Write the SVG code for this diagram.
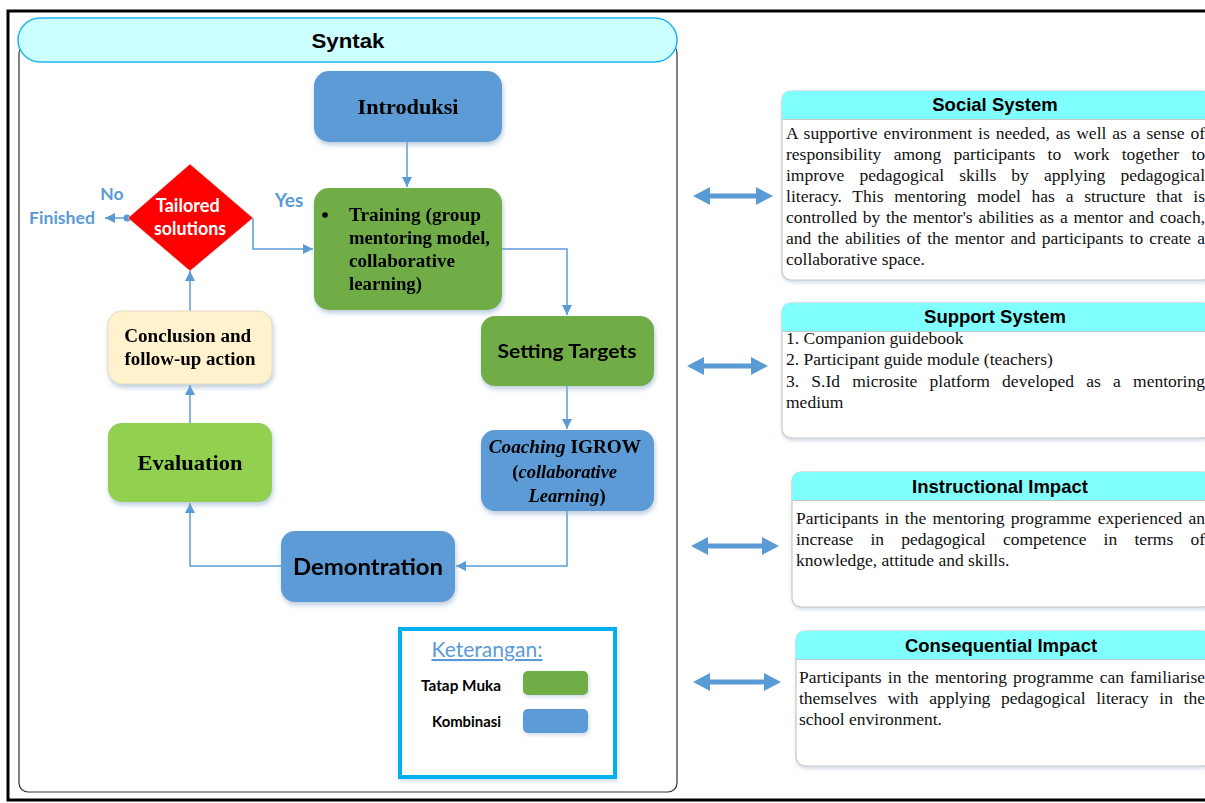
<svg xmlns="http://www.w3.org/2000/svg" width="1205" height="803" viewBox="0 0 1205 803">
<defs>
<filter id="sh" x="-20%" y="-20%" width="140%" height="150%">
<feDropShadow dx="1" dy="3" stdDeviation="2.5" flood-color="#8EA9C8" flood-opacity="0.6"/>
</filter>
<filter id="sh2" x="-10%" y="-10%" width="120%" height="130%">
<feDropShadow dx="1" dy="2" stdDeviation="2" flood-color="#9DB3CC" flood-opacity="0.5"/>
</filter>
<marker id="ah" viewBox="0 0 10 10" refX="10" refY="5" markerWidth="10" markerHeight="10" markerUnits="userSpaceOnUse" orient="auto">
<path d="M0,0 L10,5 L0,10 z" fill="#5B9BD5"/>
</marker>
</defs>
<style>
.blue{fill:#5B9BD5}
.green{fill:#70AD47}
.lgreen{fill:#92D050}
.cream{fill:#FFF2CC;stroke:#E6DDC4;stroke-width:1}
.conn{fill:none;stroke:#5B9BD5;stroke-width:1.5;marker-end:url(#ah)}
.ser{font-family:"Liberation Serif","Times New Roman",serif;font-weight:bold;fill:#000}
.sans{font-family:"Liberation Sans",Arial,sans-serif;font-weight:bold;fill:#000}
.cal{font-family:Lato,"Open Sans",sans-serif;font-weight:bold}
.body{font-family:"Liberation Serif","Times New Roman",serif;font-size:17.5px;fill:#111}
.hdr{fill:#80FFFF}
.card{fill:#fff;stroke:#C8C8C8;stroke-width:1.2}
.dbl{fill:#5B9BD5}
</style>

<rect x="8" y="11" width="1210" height="789" fill="#fff" stroke="#000" stroke-width="3"/>

<g id="syntak-container">
<rect x="19" y="44" width="658" height="748" rx="9" fill="#fff" stroke="#333" stroke-width="1.2"/>
<rect x="18" y="18" width="659" height="44" rx="22" fill="#CCFFFF" stroke="#1FB5F0" stroke-width="1.5"/>
<text x="348" y="48" text-anchor="middle" class="sans" font-size="21" textLength="73" lengthAdjust="spacingAndGlyphs">Syntak</text>
</g>

<g id="connectors">
<path class="conn" d="M407,142 V187"/>
<path class="conn" d="M502,249 H567 V315"/>
<path class="conn" d="M567,386 V429"/>
<path class="conn" d="M567,511 V566 H456"/>
<path class="conn" d="M281,566 H190 V503"/>
<path class="conn" d="M190,423 V385"/>
<path class="conn" d="M190,311 V271"/>
<path class="conn" d="M253,218 V249 H313"/>
<path class="conn" d="M127,218 H105"/>
<circle cx="127" cy="218" r="3.5" fill="#5B9BD5"/>
<text x="112" y="200" text-anchor="middle" class="cal" font-size="17.5" fill="#5B9BD5">No</text>
<text x="62" y="224" text-anchor="middle" class="cal" font-size="17.5" fill="#5B9BD5" textLength="66" lengthAdjust="spacingAndGlyphs">Finished</text>
<text x="289" y="207" text-anchor="middle" class="cal" font-size="19" fill="#5B9BD5">Yes</text>
</g>

<g id="introduksi" filter="url(#sh)">
<rect x="314" y="71" width="188" height="71" rx="15" class="blue"/>
<text x="408" y="114" text-anchor="middle" class="ser" font-size="21" textLength="101" lengthAdjust="spacingAndGlyphs">Introduksi</text>
</g>

<g id="training" filter="url(#sh)">
<rect x="314" y="188" width="188" height="122" rx="15" class="green"/>
<circle cx="325" cy="215" r="2.8" fill="#000"/>
<text class="ser" font-size="18">
<tspan x="349" y="221" textLength="132" lengthAdjust="spacingAndGlyphs">Training (group</tspan>
<tspan x="349" y="244" textLength="141" lengthAdjust="spacingAndGlyphs">mentoring model,</tspan>
<tspan x="349" y="267" textLength="106" lengthAdjust="spacingAndGlyphs">collaborative</tspan>
<tspan x="349" y="290" textLength="73" lengthAdjust="spacingAndGlyphs">learning)</tspan>
</text>
</g>

<g id="setting-targets" filter="url(#sh)">
<rect x="481" y="316" width="173" height="70" rx="14" class="green"/>
<text x="567" y="358" text-anchor="middle" class="cal" font-size="19" fill="#000" textLength="139" lengthAdjust="spacingAndGlyphs">Setting Targets</text>
</g>

<g id="coaching" filter="url(#sh)">
<rect x="481" y="430" width="173" height="81" rx="14" class="blue"/>
<text class="ser" font-size="18.5" text-anchor="middle">
<tspan x="567" y="453" textLength="152" lengthAdjust="spacingAndGlyphs"><tspan font-style="italic">Coaching</tspan> IGROW</tspan>
<tspan x="567" y="478">(<tspan font-style="italic">collaborative</tspan></tspan>
<tspan x="567" y="502"><tspan font-style="italic">Learning</tspan>)</tspan>
</text>
</g>

<g id="demontration" filter="url(#sh)">
<rect x="281" y="531" width="174" height="71" rx="14" class="blue"/>
<text x="368" y="575" text-anchor="middle" class="cal" font-size="22" fill="#000" textLength="150" lengthAdjust="spacingAndGlyphs">Demontration</text>
</g>

<g id="evaluation" filter="url(#sh)">
<rect x="108" y="423" width="164" height="79" rx="14" class="lgreen"/>
<text x="190" y="470" text-anchor="middle" class="ser" font-size="21" textLength="105" lengthAdjust="spacingAndGlyphs">Evaluation</text>
</g>

<g id="conclusion" filter="url(#sh)">
<rect x="108" y="311" width="164" height="73" rx="14" class="cream"/>
<text class="ser" font-size="18" text-anchor="middle">
<tspan x="190" y="342" textLength="127" lengthAdjust="spacingAndGlyphs">Conclusion and</tspan>
<tspan x="190" y="365" textLength="131" lengthAdjust="spacingAndGlyphs">follow-up action</tspan>
</text>
</g>

<g id="tailored-solutions">
<polygon points="190,164 253,218 190,271 128,218" fill="#FF0000" stroke="#C8C8C8" stroke-width="0.8"/>
<text class="cal" font-size="18" fill="#fff" text-anchor="middle">
<tspan x="190" y="212" textLength="64" lengthAdjust="spacingAndGlyphs">Tailored</tspan>
<tspan x="190" y="235" textLength="72" lengthAdjust="spacingAndGlyphs">solutions</tspan>
</text>
</g>

<g id="legend">
<rect x="400" y="629" width="215" height="148" fill="#fff" stroke="#00B0F0" stroke-width="4" filter="url(#sh2)"/>
<text x="487" y="657" text-anchor="middle" font-family="Lato,'Open Sans',sans-serif" font-size="21" fill="#5B9BD5" text-decoration="underline" textLength="111" lengthAdjust="spacingAndGlyphs">Keterangan:</text>
<text x="501" y="691" text-anchor="end" class="cal" font-size="15" fill="#000" textLength="80" lengthAdjust="spacingAndGlyphs">Tatap Muka</text>
<text x="501" y="727" text-anchor="end" class="cal" font-size="15" fill="#000" textLength="69" lengthAdjust="spacingAndGlyphs">Kombinasi</text>
<rect x="523" y="671" width="65" height="24" rx="5" class="green" filter="url(#sh2)"/>
<rect x="523" y="709" width="65" height="24" rx="5" class="blue" filter="url(#sh2)"/>
</g>

<g id="double-arrows">
<path class="dbl" d="M693,196 L710,187 L710,193.5 L756,193.5 L756,187 L773,196 L756,205 L756,198.5 L710,198.5 L710,205 z"/>
<path class="dbl" d="M687,366 L704,357 L704,363.5 L751,363.5 L751,357 L768,366 L751,375 L751,368.5 L704,368.5 L704,375 z"/>
<path class="dbl" d="M691,546 L708,537 L708,543.5 L762,543.5 L762,537 L779,546 L762,555 L762,548.5 L708,548.5 L708,555 z"/>
<path class="dbl" d="M693,682 L710,673 L710,679.5 L764,679.5 L764,673 L781,682 L764,691 L764,684.5 L710,684.5 L710,691 z"/>
</g>

<g id="social-system">
<rect x="782" y="91" width="430" height="189" rx="9" class="card" filter="url(#sh2)"/>
<path d="M782,119 V100 Q782,91 791,91 H1212 V119 z" class="hdr"/>
<line x1="782" y1="119.5" x2="1212" y2="119.5" stroke="#C8C8C8" stroke-width="1.2"/>
<text x="995" y="111" text-anchor="middle" class="sans" font-size="18.5">Social System</text>
<text class="body">
<tspan x="786" y="139" word-spacing="1.5" textLength="419" lengthAdjust="spacing">A supportive environment is needed, as well as a sense of</tspan>
<tspan x="786" y="160" word-spacing="7.9" textLength="419" lengthAdjust="spacing">responsibility among participants to work together to</tspan>
<tspan x="786" y="181" word-spacing="10.8" textLength="419" lengthAdjust="spacing">improve pedagogical skills by applying pedagogical</tspan>
<tspan x="786" y="202" word-spacing="6.3" textLength="419" lengthAdjust="spacing">literacy. This mentoring model has a structure that is</tspan>
<tspan x="786" y="223" word-spacing="1.4" textLength="419" lengthAdjust="spacing">controlled by the mentor's abilities as a mentor and coach,</tspan>
<tspan x="786" y="244" word-spacing="1.75" textLength="419" lengthAdjust="spacing">and the abilities of the mentor and participants to create a</tspan>
<tspan x="786" y="265" word-spacing="0">collaborative space.</tspan>
</text>
</g>

<g id="support-system">
<rect x="782" y="303" width="430" height="135" rx="9" class="card" filter="url(#sh2)"/>
<path d="M782,331 V312 Q782,303 791,303 H1212 V331 z" class="hdr"/>
<line x1="782" y1="331.5" x2="1212" y2="331.5" stroke="#C8C8C8" stroke-width="1.2"/>
<text x="995" y="323" text-anchor="middle" class="sans" font-size="18.5">Support System</text>
<text class="body">
<tspan x="786" y="344">1. Companion guidebook</tspan>
<tspan x="786" y="365">2. Participant guide module (teachers)</tspan>
<tspan x="786" y="387" word-spacing="7.8" textLength="419" lengthAdjust="spacing">3. S.Id microsite platform developed as a mentoring</tspan>
<tspan x="786" y="408" word-spacing="0">medium</tspan>
</text>
</g>

<g id="instructional-impact">
<rect x="792" y="472" width="420" height="135" rx="9" class="card" filter="url(#sh2)"/>
<path d="M792,500 V481 Q792,472 801,472 H1212 V500 z" class="hdr"/>
<line x1="792" y1="500.5" x2="1212" y2="500.5" stroke="#C8C8C8" stroke-width="1.2"/>
<text x="1000" y="493" text-anchor="middle" class="sans" font-size="18.5">Instructional Impact</text>
<text class="body">
<tspan x="796" y="524" word-spacing="1.9" textLength="409" lengthAdjust="spacing">Participants in the mentoring programme experienced an</tspan>
<tspan x="796" y="545" word-spacing="12.8" textLength="409" lengthAdjust="spacing">increase in pedagogical competence in terms of</tspan>
<tspan x="796" y="566" word-spacing="0">knowledge, attitude and skills.</tspan>
</text>
</g>

<g id="consequential-impact">
<rect x="796" y="631" width="416" height="135" rx="9" class="card" filter="url(#sh2)"/>
<path d="M796,659 V640 Q796,631 805,631 H1212 V659 z" class="hdr"/>
<line x1="796" y1="659.5" x2="1212" y2="659.5" stroke="#C8C8C8" stroke-width="1.2"/>
<text x="1001" y="652" text-anchor="middle" class="sans" font-size="18.5">Consequential Impact</text>
<text class="body">
<tspan x="799" y="683" word-spacing="1.7" textLength="406" lengthAdjust="spacing">Participants in the mentoring programme can familiarise</tspan>
<tspan x="799" y="704" word-spacing="6.3" textLength="406" lengthAdjust="spacing">themselves with applying pedagogical literacy in the</tspan>
<tspan x="799" y="725" word-spacing="0">school environment.</tspan>
</text>
</g>
</svg>
